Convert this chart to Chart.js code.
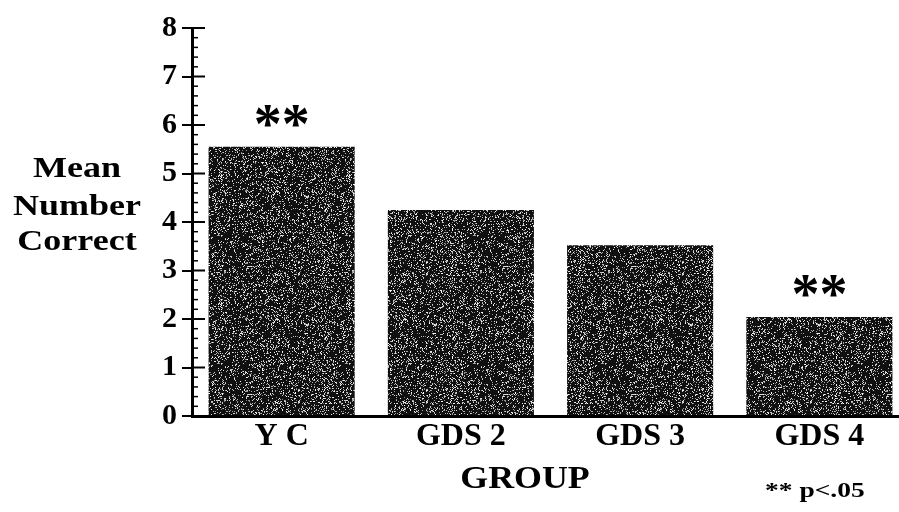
<!DOCTYPE html>
<html><head><meta charset="utf-8">
<script src="https://cdn.jsdelivr.net/npm/chart.js@4.4.1/dist/chart.umd.min.js"></script>
<style>
html,body{margin:0;padding:0;overflow:hidden;background:#fff;width:899px;height:512px}
#wrap{width:911px;height:512px;position:relative}
</style></head>
<body><div id="wrap"><canvas id="c" width="911" height="512"></canvas></div>
<script>
const categories = ['Y C', 'GDS 2', 'GDS 3', 'GDS 4'];
const meanCorrect = [5.55, 4.25, 3.52, 2.04];
const significant = [true, false, false, true];
const yMin = 0, yMax = 8, yStep = 1, yMinorStep = 0.2;
const yTitleLines = ['Mean', 'Number', 'Correct'];
const xTitle = 'GROUP';
const noteText = '** p<.05';
const starText = '**';

const SERIF = '"Liberation Serif", "Times New Roman", serif';

function stipple() {
  const s = 128, c = document.createElement('canvas');
  c.width = c.height = s;
  const g = c.getContext('2d');
  g.fillStyle = '#101010'; g.fillRect(0, 0, s, s);
  const img = g.getImageData(0, 0, s, s);
  let seed = 987654321;
  for (let i = 0; i < s * s; i++) {
    seed = (Math.imul(seed, 1103515245) + 12345) >>> 0;
    const r = (seed >>> 16) / 65536;
    if (r < 0.2) {
      const v = 130 + ((seed >>> 8) & 127);
      img.data[i * 4] = img.data[i * 4 + 1] = img.data[i * 4 + 2] = v;
    }
  }
  g.putImageData(img, 0, 0);
  return g.createPattern(c, 'repeat');
}

function stretchText(ctx, text, x, y, font, sx, align) {
  ctx.save();
  ctx.font = font;
  ctx.textAlign = align;
  ctx.textBaseline = 'alphabetic';
  ctx.translate(x, y);
  ctx.scale(sx, 1);
  ctx.fillText(text, 0, 0);
  ctx.restore();
}

const decor = {
  id: 'decor',
  afterDraw(chart) {
    const { ctx, scales: { x, y }, chartArea } = chart;
    const ax = chartArea.left;
    ctx.save();
    ctx.strokeStyle = '#000';
    ctx.fillStyle = '#000';
    const n = Math.round((yMax - yMin) / yMinorStep);
    for (let i = 0; i <= n; i++) {
      const v = yMin + i * yMinorStep;
      const py = y.getPixelForValue(v);
      const major = i % Math.round(yStep / yMinorStep) === 0;
      ctx.lineWidth = major ? 2 : 1.5;
      ctx.beginPath();
      ctx.moveTo(ax, py);
      ctx.lineTo(ax + (major ? 13 : 6), py);
      ctx.stroke();
    }
    // y title
    const lineY = [177, 215, 250];
    yTitleLines.forEach((t, i) => stretchText(ctx, t, 77, lineY[i], 'bold 30px ' + SERIF, 1.2, 'center'));
    // x title
    stretchText(ctx, xTitle, 525, 488, 'bold 32px ' + SERIF, 1.12, 'center');
    // significance stars
    meanCorrect.forEach((v, i) => {
      if (!significant[i]) return;
      const px = x.getPixelForValue(i);
      const py = y.getPixelForValue(v);
      stretchText(ctx, starText, px, py - 4, 'bold 56px ' + SERIF, 1.0, 'center');
    });
    // note
    stretchText(ctx, noteText, 765, 497, 'bold 22px ' + SERIF, 1.25, 'left');
    ctx.restore();
  }
};

new Chart(document.getElementById('c'), {
  type: 'bar',
  data: {
    labels: categories,
    datasets: [{
      data: meanCorrect,
      backgroundColor: stipple(),
      borderWidth: 0,
      barPercentage: 0.815,
      categoryPercentage: 1
    }]
  },
  options: {
    responsive: false,
    animation: false,
    devicePixelRatio: 1,
    layout: { padding: { top: 28, right: 2, bottom: 0, left: 0 } },
    plugins: { legend: { display: false }, tooltip: { enabled: false } },
    scales: {
      x: {
        grid: { display: false, drawTicks: false },
        border: { display: true, color: '#000', width: 3 },
        ticks: { color: '#000', font: { family: SERIF, size: 32, weight: 'bold' }, padding: 2, maxRotation: 0 },
        title: { display: false },
        afterFit(s) { s.height = 96; }
      },
      y: {
        min: yMin, max: yMax,
        grid: { drawOnChartArea: false, drawTicks: true, tickLength: 10, color: '#000', lineWidth: 2 },
        border: { display: true, color: '#000', width: 3 },
        ticks: { stepSize: yStep, color: '#000', font: { family: SERIF, size: 30, weight: 'bold' }, padding: 5 },
        afterFit(s) { s.width = 192; }
      }
    }
  },
  plugins: [decor]
});
</script>
</body></html>
